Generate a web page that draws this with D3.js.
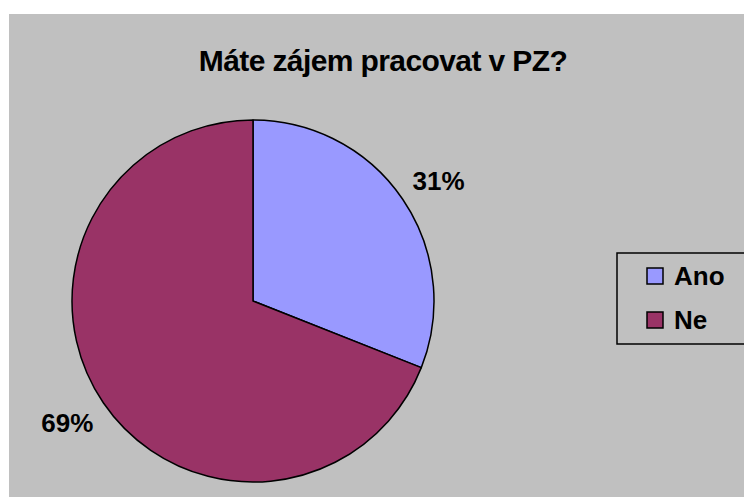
<!DOCTYPE html>
<html>
<head>
<meta charset="utf-8">
<script src="https://cdn.jsdelivr.net/npm/d3@7"></script>
<style>
  body { margin: 0; background: #fff; }
  text { font-family: "Liberation Sans", Arial, sans-serif; font-weight: bold; }
</style>
</head>
<body>
<div id="chart"></div>
<script>
// data
var categories = ['Ano', 'Ne'];
var values = [31, 69];
var colors = ['#9999FF', '#993366'];
var title = 'Máte zájem pracovat v PZ?';

var width = 744, height = 497;

var svg = d3.select('#chart')
  .append('svg')
  .attr('width', width)
  .attr('height', height);

// gray chart area
svg.append('rect')
  .attr('x', 9).attr('y', 14)
  .attr('width', width - 9).attr('height', height - 14)
  .attr('fill', '#C0C0C0');

svg.append('text')
  .attr('x', 383).attr('y', 71)
  .attr('text-anchor', 'middle')
  .style('font-size', '30px')
  .style('letter-spacing', '-0.6px')
  .text(title);

var cx = 253, cy = 301, r = 181;

var pie = d3.pie().sort(null).value(function (d) { return d; });
var arcs = pie(values);
var arc = d3.arc().innerRadius(0).outerRadius(r);

var g = svg.append('g').attr('transform', 'translate(' + cx + ',' + cy + ')');

g.selectAll('path')
  .data(arcs)
  .enter()
  .append('path')
  .attr('d', arc)
  .attr('fill', function (d, i) { return colors[i]; })
  .attr('stroke', '#000')
  .attr('stroke-width', 1.5)
  .attr('stroke-linejoin', 'round');

// percentage labels outside the slices
var labelArc = d3.arc().innerRadius(r * 1.24).outerRadius(r * 1.24);
g.selectAll('.lbl')
  .data(arcs)
  .enter()
  .append('text')
  .attr('class', 'lbl')
  .attr('transform', function (d) {
    var c = labelArc.centroid(d);
    return 'translate(' + c[0] + ',' + c[1] + ')';
  })
  .attr('text-anchor', 'middle')
  .attr('dy', function (d, i) { return i === 0 ? '0.6em' : '0.2em'; })
  .style('font-size', '26px')
  .text(function (d) { return d.value + '%'; });

// legend
var legend = svg.append('g').attr('transform', 'translate(617,253)');
legend.append('rect')
  .attr('width', 140).attr('height', 91)
  .attr('fill', 'none')
  .attr('stroke', '#000')
  .attr('stroke-width', 1.5);

var item = legend.selectAll('.item')
  .data(categories)
  .enter()
  .append('g')
  .attr('transform', function (d, i) { return 'translate(30,' + (15 + i * 44) + ')'; });

item.append('rect')
  .attr('width', 16).attr('height', 16)
  .attr('fill', function (d, i) { return colors[i]; })
  .attr('stroke', '#000')
  .attr('stroke-width', 1.5);

item.append('text')
  .attr('x', 27).attr('y', 17)
  .style('font-size', '26px')
  .text(function (d) { return d; });
</script>
</body>
</html>
